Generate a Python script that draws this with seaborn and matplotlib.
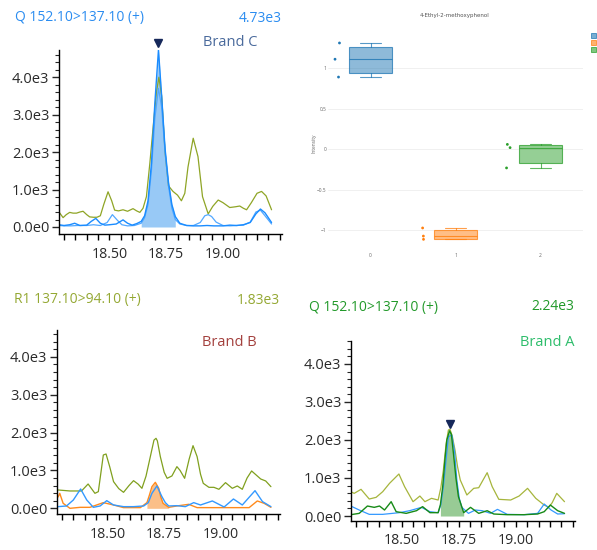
import numpy as np
import matplotlib
matplotlib.use("Agg")
import matplotlib.pyplot as plt
import matplotlib.transforms as mtransforms
from matplotlib.ticker import FixedLocator, MultipleLocator, FuncFormatter
from matplotlib.patches import Patch
import seaborn as sns

# ---- Brand C (top left) : Q 152.10>137.10 ----
c_olive_rt = [18.278, 18.296, 18.31, 18.325, 18.34, 18.355, 18.37, 18.384, 18.40, 18.413, 18.43, 18.445, 18.46,
              18.475, 18.494, 18.51, 18.523, 18.54, 18.56, 18.58, 18.604, 18.62, 18.634, 18.648, 18.663, 18.678,
              18.693, 18.707, 18.718, 18.73, 18.745, 18.76, 18.78, 18.80, 18.817, 18.832, 18.846, 18.869, 18.89,
              18.91, 18.935, 18.955, 18.979, 19.00, 19.03, 19.055, 19.074, 19.09, 19.104, 19.125, 19.15, 19.17,
              19.19, 19.214]
c_olive = [400, 250, 330, 390, 370, 370, 400, 420, 330, 270, 260, 260, 300, 600, 940, 700, 450, 430, 460, 420,
           490, 430, 390, 500, 810, 1700, 2700, 3600, 4000, 3500, 2000, 1100, 950, 850, 700, 900, 1600, 2370,
           1880, 810, 350, 550, 720, 650, 520, 540, 560, 500, 460, 650, 900, 950, 830, 460]
c_blue1_rt = [18.278, 18.30, 18.325, 18.347, 18.37, 18.40, 18.42, 18.44, 18.46, 18.48, 18.50, 18.53, 18.56,
              18.58, 18.60, 18.62, 18.64, 18.655, 18.67, 18.685, 18.70, 18.716, 18.73, 18.745, 18.76, 18.775,
              18.79, 18.81, 18.84, 18.87, 18.90, 18.93, 18.96, 19.00, 19.03, 19.06, 19.09, 19.12, 19.145, 19.165,
              19.185, 19.214]
c_blue1 = [60, 40, 60, 100, 40, 50, 150, 230, 100, 50, 60, 80, 190, 100, 50, 90, 150, 300, 700, 1700, 3300,
           4730, 3500, 2100, 1200, 600, 280, 100, 40, 30, 30, 40, 30, 30, 50, 40, 60, 120, 350, 480, 380, 120]
c_blue2_rt = [18.278, 18.30, 18.33, 18.36, 18.40, 18.43, 18.46, 18.49, 18.513, 18.535, 18.555, 18.58, 18.61,
              18.64, 18.655, 18.67, 18.685, 18.70, 18.716, 18.73, 18.745, 18.76, 18.775, 18.79, 18.81, 18.84,
              18.87, 18.90, 18.92, 18.935, 18.95, 18.97, 19.00, 19.03, 19.06, 19.09, 19.12, 19.145, 19.165,
              19.185, 19.214]
c_blue2 = [40, 30, 30, 40, 40, 60, 40, 120, 330, 180, 60, 30, 40, 100, 250, 600, 1500, 2900, 3700, 3200, 2000,
           1100, 500, 200, 80, 40, 40, 120, 300, 330, 280, 130, 40, 30, 40, 50, 130, 400, 450, 300, 80]

# ---- Brand B (bottom left) : R1 137.10>94.10 ----
b_olive_rt = [18.283, 18.335, 18.386, 18.415, 18.445, 18.46, 18.482, 18.494, 18.51, 18.527, 18.55, 18.571,
              18.595, 18.615, 18.635, 18.652, 18.67, 18.689, 18.705, 18.714, 18.72, 18.733, 18.75, 18.763, 18.784,
              18.806, 18.82, 18.84, 18.86, 18.877, 18.895, 18.91, 18.922, 18.947, 18.969, 18.991, 19.02, 19.05,
              19.072, 19.094, 19.115, 19.135, 19.155, 19.175, 19.197, 19.22]
b_olive = [484, 458, 458, 642, 396, 440, 1408, 1434, 1100, 704, 520, 422, 600, 730, 640, 528, 850, 1364, 1800,
           1848, 1780, 1364, 950, 792, 854, 1100, 1000, 792, 1300, 1654, 1364, 900, 660, 554, 554, 502, 678, 528,
           590, 502, 800, 986, 880, 774, 722, 572]
b_blue_rt = [18.283, 18.32, 18.35, 18.382, 18.409, 18.438, 18.468, 18.497, 18.527, 18.571, 18.615, 18.66,
             18.68, 18.696, 18.718, 18.74, 18.755, 18.77, 18.806, 18.843, 18.88, 18.91, 18.962, 19.014, 19.055,
             19.094, 19.15, 19.183, 19.22]
b_blue = [44, 62, 220, 510, 220, 26, 62, 202, 88, 44, 44, 62, 150, 396, 590, 308, 150, 62, 70, 44, 150, 88, 194,
          35, 246, 88, 466, 176, 44]
b_orange_rt = [18.283, 18.29, 18.305, 18.335, 18.38, 18.423, 18.482, 18.527, 18.571, 18.645, 18.674, 18.685,
               18.696, 18.711, 18.726, 18.735, 18.745, 18.77, 18.806, 18.858, 18.895, 19.014, 19.124, 19.16,
               19.19, 19.22]
b_orange = [300, 396, 132, 0, 26, 26, 150, 88, 18, 18, 150, 350, 572, 686, 528, 300, 132, 26, 62, 106, 18, 18,
            18, 194, 132, 26]

# ---- Brand A (bottom right) : Q 152.10>137.10 ----
a_olive_rt = [18.277, 18.292, 18.322, 18.358, 18.388, 18.417, 18.447, 18.488, 18.513, 18.55, 18.58, 18.602,
              18.631, 18.66, 18.672, 18.683, 18.695, 18.705, 18.712, 18.722, 18.734, 18.745, 18.757, 18.786,
              18.816, 18.838, 18.875, 18.897, 18.926, 18.978, 19.015, 19.052, 19.088, 19.125, 19.145, 19.16,
              19.18, 19.214]
a_olive = [640, 596, 702, 447, 491, 640, 860, 1105, 772, 377, 526, 377, 465, 421, 750, 1210, 1900, 2263, 2280,
           2100, 1736, 1300, 947, 553, 728, 745, 1140, 772, 439, 421, 526, 728, 465, 289, 230, 350, 596, 377]
a_blue_rt = [18.277, 18.314, 18.358, 18.417, 18.49, 18.535, 18.587, 18.624, 18.66, 18.672, 18.683, 18.695,
             18.705, 18.72, 18.732, 18.742, 18.753, 18.764, 18.793, 18.823, 18.853, 18.89, 18.92, 18.963, 19.037,
             19.096, 19.125, 19.155, 19.184, 19.214]
a_blue = [263, 158, 44, 44, 88, 140, 228, 114, 88, 300, 772, 1500, 2087, 2131, 1700, 947, 450, 228, 70, 158,
          140, 70, 175, 44, 35, 70, 316, 158, 53, 61]
a_green_rt = [18.277, 18.314, 18.35, 18.38, 18.403, 18.425, 18.454, 18.476, 18.52, 18.565, 18.592, 18.624,
              18.66, 18.67, 18.68, 18.69, 18.698, 18.71, 18.718, 18.727, 18.738, 18.749, 18.772, 18.802, 18.838,
              18.875, 18.904, 18.963, 19.037, 19.096, 19.125, 19.152, 19.184, 19.214]
a_green = [35, 70, 263, 228, 263, 158, 377, 114, 70, 140, 246, 88, 88, 300, 772, 1500, 2000, 2240, 2150, 1650,
           1000, 509, 88, 228, 70, 140, 53, 35, 35, 53, 114, 289, 140, 70]

# ---- box plot panel ----
box_title = "4-Ethyl-2-methoxyphenol"
box_groups = ["0", "1", "2"]
box_vals_0 = [0.89, 1.11, 1.31]
box_vals_1 = [-1.11, -1.07, -0.97]
box_vals_2 = [-0.23, 0.02, 0.06]
box_colors = ["#1f77b4", "#ff7f0e", "#2ca02c"]

sns.set_style("ticks")
plt.rcParams["font.family"] = ["Open Sans", "DejaVu Sans"]

W, H = 597, 550
fig = plt.figure(figsize=(W / 100, H / 100), dpi=100)


def rect(l, t, r, b):
    return [l / W, 1 - b / H, (r - l) / W, (b - t) / H]


def ytick_fmt(v, pos):
    if abs(v) < 1e-9:
        return "0.0e0"
    return f"{v / 1000:.1f}e3"


def style_chrom(ax, ylim):
    ax.set_xlim(18.278, 19.26)
    ax.set_ylim(*ylim)
    sns.despine(ax=ax)
    for s in ("left", "bottom"):
        ax.spines[s].set_color("black")
        ax.spines[s].set_linewidth(1.0)
    ax.xaxis.set_major_locator(FixedLocator([18.5, 18.75, 19.0]))
    ax.xaxis.set_minor_locator(MultipleLocator(0.05))
    ax.xaxis.set_major_formatter(FuncFormatter(lambda v, p: f"{v:.2f}"))
    ax.yaxis.set_major_locator(MultipleLocator(1000))
    ax.yaxis.set_minor_locator(MultipleLocator(200))
    ax.yaxis.set_major_formatter(FuncFormatter(ytick_fmt))
    ax.tick_params(axis="x", which="both", length=4, width=1, direction="out", labelsize=10.2,
                   colors="black", labelcolor="#2a2a2a", pad=5)
    ax.tick_params(axis="y", which="major", length=5, width=1, direction="out", labelsize=10.5,
                   labelcolor="#2a2a2a", pad=2)
    ax.tick_params(axis="y", which="minor", length=3, width=0.8, direction="out")
    ax.set_xlabel("")
    ax.set_ylabel("")


def draw_chrom(ax, traces, fill_idx, fill_win, fill_color, marker=False):
    for rt, vals, color, lw in traces:
        sns.lineplot(x=rt, y=vals, ax=ax, color=color, lw=lw, sort=False, estimator=None)
    rt, vals = np.array(traces[fill_idx][0]), np.array(traces[fill_idx][1])
    m = (rt >= fill_win[0]) & (rt <= fill_win[1])
    ax.fill_between(rt[m], vals[m], 0, color=fill_color, lw=0, zorder=1)
    if marker:
        k = int(np.argmax(vals))
        tr = ax.transData + mtransforms.ScaledTranslation(0, 7 / 100, fig.dpi_scale_trans)
        ax.plot([rt[k]], [vals[k]], marker="v", ms=6, color="#16285a", transform=tr, clip_on=False,
                zorder=5)


# Brand C
ax_c = fig.add_axes(rect(59, 50, 282, 234))
draw_chrom(ax_c, [(c_olive_rt, c_olive, "#8fa526", 0.9),
                  (c_blue2_rt, c_blue2, "#52a8ff", 0.9),
                  (c_blue1_rt, c_blue1, "#1a8cff", 1.0)],
           2, (18.64, 18.80), "#98c9f6", marker=True)
style_chrom(ax_c, (-187, 4726))
ax_c.text(0.89, 1.04, "Brand C", transform=ax_c.transAxes, ha="right", va="center",
          fontsize=10.5, color="#4a6a9c")

# Brand B
ax_b = fig.add_axes(rect(57, 330, 280, 514))
draw_chrom(ax_b, [(b_olive_rt, b_olive, "#80a01e", 0.9),
                  (b_orange_rt, b_orange, "#ff8a1c", 1.0),
                  (b_blue_rt, b_blue, "#3399ff", 1.0)],
           1, (18.655, 18.775), "#fbbf88")
style_chrom(ax_b, (-150, 4707))
ax_b.text(0.897, 0.93, "Brand B", transform=ax_b.transAxes, ha="right", va="center",
          fontsize=10.5, color="#a3403d")

# Brand A
ax_a = fig.add_axes(rect(351, 341, 575, 521))
draw_chrom(ax_a, [(a_olive_rt, a_olive, "#a6b53c", 0.9),
                  (a_blue_rt, a_blue, "#3399ff", 0.9),
                  (a_green_rt, a_green, "#178a17", 1.0)],
           2, (18.665, 18.775), "#98cb95", marker=True)
style_chrom(ax_a, (-131, 4603))
ax_a.text(1.0, 0.99, "Brand A", transform=ax_a.transAxes, ha="right", va="center",
          fontsize=10.5, color="#2dbd6b")

# trace headers
hdr = [(15, 18, "Q 152.10>137.10 (+)", "left", "#2a8cf0"),
       (282, 18, "4.73e3", "right", "#2a8cf0"),
       (14, 300, "R1 137.10>94.10 (+)", "left", "#94a833"),
       (280, 300, "1.83e3", "right", "#94a833"),
       (309, 307, "Q 152.10>137.10 (+)", "left", "#22992a"),
       (574, 307, "2.24e3", "right", "#22992a")]
for x, y, s, ha, col in hdr:
    fig.text(x / W, 1 - y / H, s, ha=ha, va="center", fontsize=10, color=col)

# ---- box plot ----
ax_box = fig.add_axes(rect(328, 30, 583, 245))
box_data = [box_vals_0, box_vals_1, box_vals_2]
stats = []
for g, v in zip(box_groups, box_data):
    q1, med, q3 = np.percentile(v, [25, 50, 75], method="hazen")
    stats.append(dict(label=g, med=med, q1=q1, q3=q3, whislo=min(v), whishi=max(v), fliers=[]))
bp = ax_box.bxp(stats, positions=[0, 1, 2], widths=0.5, patch_artist=True, showfliers=False,
                capwidths=0.25, manage_ticks=False)
for i, col in enumerate(box_colors):
    bp["boxes"][i].set_facecolor(matplotlib.colors.to_rgba(col, 0.5))
    bp["boxes"][i].set_edgecolor(matplotlib.colors.to_rgba(col, 0.75))
    bp["boxes"][i].set_linewidth(0.8)
    bp["medians"][i].set_color(matplotlib.colors.to_rgba(col, 0.8))
    bp["medians"][i].set_linewidth(0.8)
    for art in bp["whiskers"][2 * i:2 * i + 2] + bp["caps"][2 * i:2 * i + 2]:
        art.set_color(matplotlib.colors.to_rgba(col, 0.75))
        art.set_linewidth(0.8)

pts_x = [g for g, v in zip(box_groups, box_data) for _ in v]
pts_y = [y for v in box_data for y in v]
np.random.seed(2)
n_before = len(ax_box.collections)
sns.stripplot(x=pts_x, y=pts_y, hue=pts_x, palette=box_colors, order=box_groups, hue_order=box_groups,
              jitter=0.05, size=2.0, linewidth=0, ax=ax_box, legend=False)
shift = mtransforms.Affine2D().translate(-0.37, 0) + ax_box.transData
for coll in ax_box.collections[n_before:]:
    coll.set_offset_transform(shift)

ax_box.set_xlim(-0.5, 2.5)
ax_box.set_ylim(-1.18, 1.47)
ax_box.set_xticks([0, 1, 2])
ax_box.set_xticklabels(box_groups)
ax_box.set_yticks([-1, -0.5, 0, 0.5, 1])
ax_box.yaxis.set_major_formatter(FuncFormatter(lambda v, p: f"{v:g}".replace("-", "\u2212")))
ax_box.yaxis.grid(True, color="#eeeeee", lw=0.6)
ax_box.xaxis.grid(False)
ax_box.set_axisbelow(True)
for s in ax_box.spines.values():
    s.set_visible(False)
ax_box.tick_params(axis="both", length=0, labelsize=3.5, labelcolor="#666666")
ax_box.tick_params(axis="x", pad=6)
ax_box.tick_params(axis="y", pad=1)
ax_box.set_xlabel("")
ax_box.set_ylabel("")
fig.text(455 / W, 1 - 16 / H, box_title, ha="center", va="center", fontsize=4, color="#555555",
         family=["DejaVu Sans"])
fig.text(314 / W, 1 - 143 / H, "Intensity", ha="center", va="center", rotation=90, fontsize=3.5,
         color="#666666")
# legend swatches only: their labels fall outside the figure in the reference
handles = [Patch(facecolor=matplotlib.colors.to_rgba(c, 0.6), edgecolor=c, lw=0.5) for c in box_colors]
fig.legend(handles, ["", "", ""], loc="upper left", bbox_to_anchor=(591 / W, 1 - 33 / H), frameon=False,
           fontsize=4, handlelength=0.9, handleheight=0.9, labelspacing=0.35, borderpad=0, borderaxespad=0,
           handletextpad=0.8)

fig.savefig("out.png", dpi=100)
